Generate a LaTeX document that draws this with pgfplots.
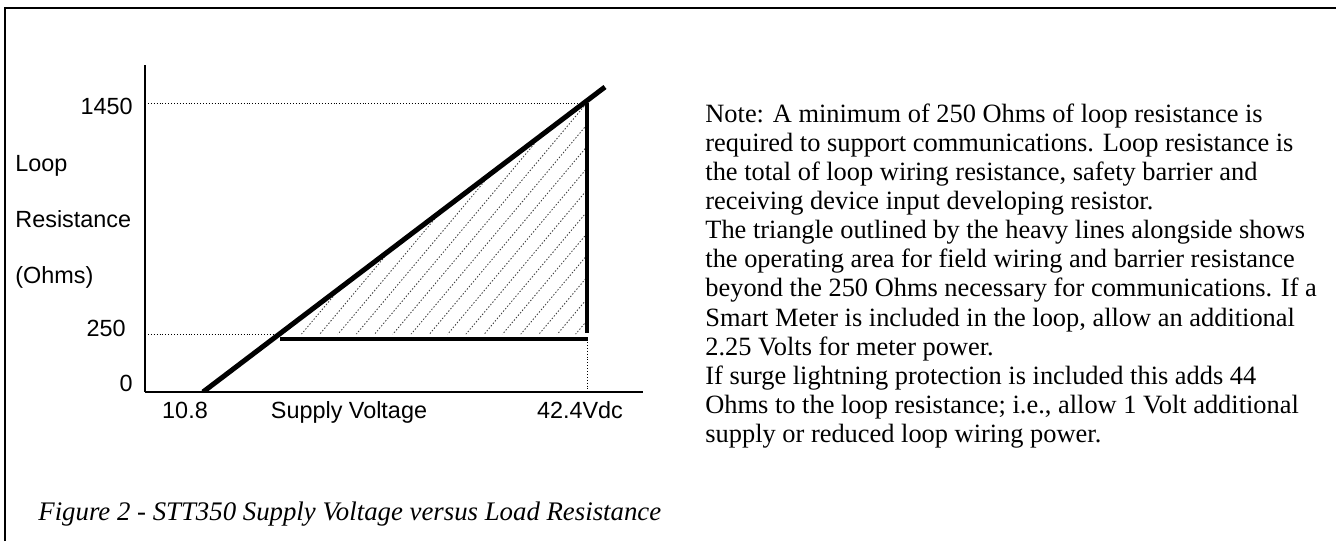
\documentclass[border=0pt]{standalone}
\usepackage{fontspec}
\setmainfont{Liberation Serif}
\newfontfamily\arial{Liberation Sans}
\usepackage{pgfplots}
\pgfplotsset{compat=1.18}
\usetikzlibrary{patterns.meta}
\pgfdeclarepattern{
  name=DotLines,
  type=uncolored,
  bottom left={\pgfpoint{-0.1pt}{-0.4pt}},
  top right={\pgfpoint{2.1pt}{6.6pt}},
  tile size={\pgfpoint{1.6pt}{7pt}},
  tile transformation={\pgftransformrotate{50}},
  code={
    \pgfpathrectangle{\pgfpoint{0pt}{-0.22pt}}{\pgfpoint{0.7pt}{0.44pt}}
    \pgfusepath{fill}
  }
}
\begin{document}
\begin{tikzpicture}
\useasboundingbox (0pt,0pt) rectangle (668pt,270.5pt);
% frame
\draw[line width=1.2pt] (2.6pt,0pt) -- (2.6pt,266.6pt) -- (668pt,266.6pt);
\coordinate (A) at (72.5pt,74.5pt);
\begin{axis}[
  at={(A)}, anchor=south west,
  scale only axis, width=249pt, height=163.5pt,
  xmin=6.027, xmax=47.008, ymin=0, ymax=1647.3,
  y coord trafo/.code={\pgfmathparse{(#1<=250)*(#1)+(#1>250)*(250+(#1-250)*0.8298)}},
  axis x line*=bottom, axis y line*=left,
  axis line style={line width=1.1pt},
  major tick length=0pt, tick style={draw=none},
  xtick={10.8,42.4}, xticklabels={{10.8\kern18pt},{42.4Vdc\kern7pt}},
  ytick={0,250,1450}, yticklabels={{\raisebox{4.5pt}{0}},{\raisebox{3pt}{250}\kern3.5pt},{\raisebox{-1.75pt}{1450}}},
  ticklabel style={font=\arial\fontsize{11.7}{14}\selectfont, inner sep=0pt},
  xticklabel style={anchor=base, yshift=-13pt},
  yticklabel style={anchor=base east, xshift=-6pt, yshift=-4.2pt},
  xlabel={Supply Voltage},
  xlabel style={at={(axis description cs:0.4096,0)}, anchor=base, inner sep=0pt, yshift=-13pt, font=\arial\fontsize{11.7}{14}\selectfont},
  ylabel={Loop\\Resistance\\(Ohms)},
  ylabel style={rotate=-90, at={(axis description cs:-0.2610,0.5199)}, anchor=west, align=left, inner sep=0pt, font=\arial\fontsize{11.7}{28}\selectfont},
]
\addplot[draw=none, pattern=DotLines, pattern color=black!75] coordinates {(17.12,250) (42.4,250) (42.4,1450)} -- cycle;
\addplot[densely dotted, line width=0.45pt] coordinates {(6.027,1450) (42.4,1450)};
\addplot[densely dotted, line width=0.45pt] coordinates {(6.027,250) (17.12,250)};
\addplot[densely dotted, line width=0.45pt] coordinates {(42.4,228) (42.4,0)};
\addplot[line width=2.5pt] coordinates {(10.8,0) (43.88,1533)};
\addplot[line width=2.2pt] coordinates {(42.4,1450) (42.4,255)};
\addplot[line width=2.3pt] coordinates {(17.14,228) (42.47,228)};
\end{axis}
\node[anchor=west, inner sep=0pt, font=\itshape\fontsize{13.4}{15}\selectfont] at (19pt,13.5pt) {Figure 2 - STT350 Supply Voltage versus Load Resistance};
\node[anchor=north west, align=left, inner sep=0pt, font=\fontsize{13.2}{14.55}\selectfont] at (352.5pt,218.8pt) {Note: A minimum of 250 Ohms of loop resistance is\\
required to support communications. Loop resistance is\\
the total of loop wiring resistance, safety barrier and\\
receiving device input developing resistor.\\
The triangle outlined by the heavy lines alongside shows\\
the operating area for field wiring and barrier resistance\\
beyond the 250 Ohms necessary for communications. If a\\
Smart Meter is included in the loop, allow an additional\\
2.25 Volts for meter power.\\
If surge lightning protection is included this adds 44\\
Ohms to the loop resistance; i.e., allow 1 Volt additional\\
supply or reduced loop wiring power.};
\end{tikzpicture}
\end{document}
